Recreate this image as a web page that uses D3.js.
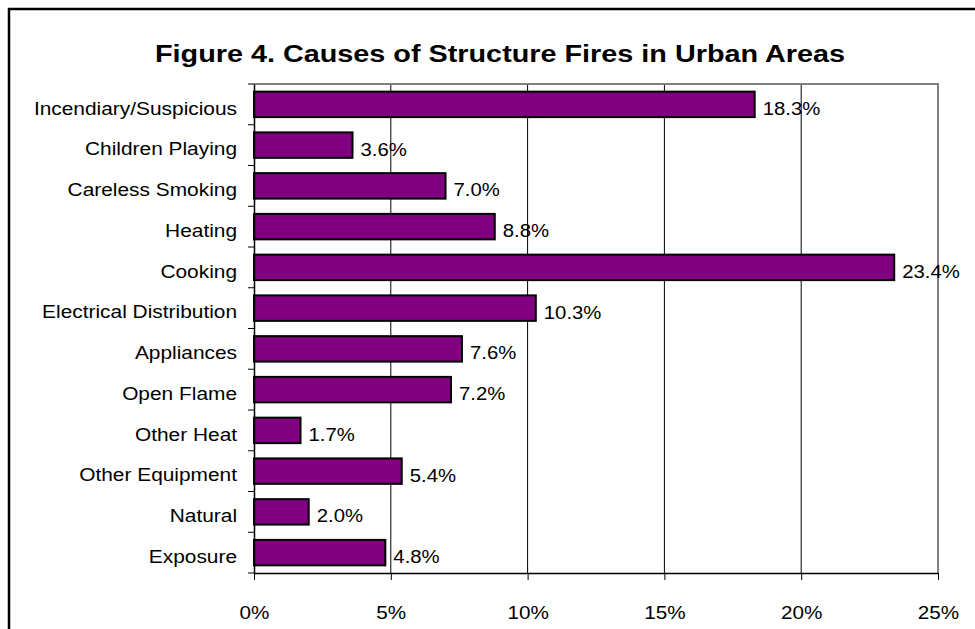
<!DOCTYPE html>
<html>
<head>
<meta charset="utf-8">
<script src="https://cdn.jsdelivr.net/npm/d3@7"></script>
<style>
  html, body { margin: 0; padding: 0; background: #fff; }
  svg { display: block; font-family: "Liberation Sans", Arial, sans-serif; }
</style>
</head>
<body>
<svg id="chart" width="975" height="629"></svg>
<script>
// Causes of structure fires, share of total (%)
const causes = [
  "Incendiary/Suspicious", "Children Playing", "Careless Smoking", "Heating",
  "Cooking", "Electrical Distribution", "Appliances", "Open Flame",
  "Other Heat", "Other Equipment", "Natural", "Exposure"
];
const shares = [18.3, 3.6, 7.0, 8.8, 23.4, 10.3, 7.6, 7.2, 1.7, 5.4, 2.0, 4.8];
const xTicks = [0, 5, 10, 15, 20, 25];
const title = "Figure 4. Causes of Structure Fires in Urban Areas";

const svg = d3.select("#chart");
const W = 975, H = 629;
const plot = { left: 254, right: 938, top: 84, bottom: 573 };
// the lettering is set slightly wide
const stretch = 1.13;

// outer frame (open on the right and bottom)
svg.append("path")
  .attr("d", `M9,${H} V9 H${W}`)
  .attr("fill", "none").attr("stroke", "#000").attr("stroke-width", 2.5);

svg.append("text")
  .attr("transform", "translate(500,61.5) scale(1.2,1)")
  .attr("text-anchor", "middle")
  .attr("font-size", 24).attr("font-weight", "bold")
  .text(title);

const x = d3.scaleLinear().domain([0, 25]).range([plot.left, plot.right]);
const y = d3.scaleBand().domain(causes).range([plot.top, plot.bottom])
  .paddingInner(0.375).paddingOuter(0.1875);

// vertical gridlines
svg.append("g").selectAll("line")
  .data(xTicks.filter(t => t > 0 && t < 25))
  .join("line")
  .attr("x1", d => x(d)).attr("x2", d => x(d))
  .attr("y1", plot.top).attr("y2", plot.bottom)
  .attr("stroke", "#000").attr("stroke-width", 1);

// plot area top/right border
svg.append("path")
  .attr("d", `M${plot.left},${plot.top} H${plot.right} V${plot.bottom}`)
  .attr("fill", "none").attr("stroke", "#808080").attr("stroke-width", 2);

// bars
svg.append("g").selectAll("rect")
  .data(causes)
  .join("rect")
  .attr("x", x(0))
  .attr("y", d => y(d))
  .attr("width", (d, i) => x(shares[i]) - x(0))
  .attr("height", y.bandwidth())
  .attr("fill", "#800080")
  .attr("stroke", "#000").attr("stroke-width", 2);

// value labels
svg.append("g").selectAll("text")
  .data(causes)
  .join("text")
  .attr("transform", (d, i) =>
    `translate(${x(shares[i]) + 8},${y(d) + y.bandwidth() / 2}) scale(${stretch},1)`)
  .attr("dy", "0.58em")
  .attr("font-size", 18)
  .text((d, i) => shares[i].toFixed(1) + "%");

// category axis
const yAxis = svg.append("g")
  .attr("transform", `translate(${plot.left},0)`)
  .call(d3.axisLeft(y).tickSize(0).tickPadding(15));
yAxis.select(".domain").attr("stroke", "#000").attr("stroke-width", 1.5);
yAxis.selectAll("text")
  .attr("font-size", 18.5).attr("font-family", null).attr("fill", "#000")
  .attr("dy", "0.56em")
  .attr("transform", `scale(${stretch},1)`);
// tick marks between categories
svg.append("g").selectAll("line")
  .data(d3.range(causes.length + 1))
  .join("line")
  .attr("x1", plot.left - 6).attr("x2", plot.left)
  .attr("y1", i => plot.top + i * (plot.bottom - plot.top) / causes.length)
  .attr("y2", i => plot.top + i * (plot.bottom - plot.top) / causes.length)
  .attr("stroke", "#000").attr("stroke-width", 1);

// value axis
const xAxis = svg.append("g")
  .attr("transform", `translate(0,${plot.bottom})`)
  .call(d3.axisBottom(x).tickValues(xTicks).tickFormat(d => d + "%")
    .tickSizeInner(7).tickSizeOuter(0).tickPadding(26));
xAxis.select(".domain").attr("stroke", "#000").attr("stroke-width", 1.5);
xAxis.selectAll(".tick line").attr("stroke", "#000");
xAxis.selectAll("text")
  .attr("font-size", 18).attr("font-family", null).attr("fill", "#000")
  .attr("transform", `scale(1.15,1)`);
</script>
</body>
</html>
